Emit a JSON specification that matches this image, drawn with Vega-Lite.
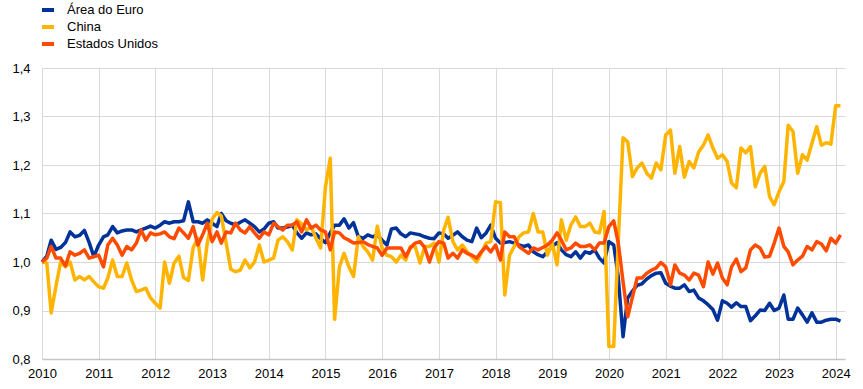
{
  "$schema": "https://vega.github.io/schema/vega-lite/v6.json",
  "width": 803,
  "height": 291,
  "autosize": {"type": "none"},
  "padding": {"left": 42, "top": 68, "right": 18, "bottom": 30},
  "background": "white",
  "config": {
    "view": {"stroke": null},
    "axis": {"labelFont": "Liberation Sans", "labelFontSize": 13, "labelColor": "#000000", "gridColor": "#d9d9d9", "gridWidth": 1},
    "legend": {"labelFont": "Liberation Sans", "labelFontSize": 13, "labelColor": "#000000"}
  },
  "data": {"values": [
    {"d":"2010-01-01","e":1.000,"c":1.000,"u":1.000},{"d":"2010-02-01","e":1.012,"c":0.998,"u":1.008},{"d":"2010-03-01","e":1.045,"c":0.895,"u":1.032},{"d":"2010-04-01","e":1.026,"c":0.950,"u":1.008},{"d":"2010-05-01","e":1.030,"c":1.000,"u":1.008},{"d":"2010-06-01","e":1.040,"c":0.990,"u":0.992},{"d":"2010-07-01","e":1.062,"c":1.000,"u":1.021},{"d":"2010-08-01","e":1.052,"c":0.963,"u":1.014},{"d":"2010-09-01","e":1.055,"c":0.970,"u":1.018},{"d":"2010-10-01","e":1.065,"c":0.963,"u":1.025},{"d":"2010-11-01","e":1.040,"c":0.970,"u":1.008},{"d":"2010-12-01","e":1.011,"c":0.959,"u":1.011},
    {"d":"2011-01-01","e":1.035,"c":0.949,"u":1.014},{"d":"2011-02-01","e":1.052,"c":0.946,"u":0.990},{"d":"2011-03-01","e":1.056,"c":0.967,"u":1.035},{"d":"2011-04-01","e":1.073,"c":1.004,"u":1.049},{"d":"2011-05-01","e":1.060,"c":0.970,"u":1.035},{"d":"2011-06-01","e":1.064,"c":0.970,"u":1.014},{"d":"2011-07-01","e":1.066,"c":0.998,"u":1.032},{"d":"2011-08-01","e":1.066,"c":0.963,"u":1.025},{"d":"2011-09-01","e":1.062,"c":0.939,"u":1.039},{"d":"2011-10-01","e":1.066,"c":0.942,"u":1.066},{"d":"2011-11-01","e":1.070,"c":0.946,"u":1.045},{"d":"2011-12-01","e":1.074,"c":0.926,"u":1.060},
    {"d":"2012-01-01","e":1.070,"c":0.915,"u":1.056},{"d":"2012-02-01","e":1.076,"c":0.905,"u":1.058},{"d":"2012-03-01","e":1.083,"c":1.000,"u":1.062},{"d":"2012-04-01","e":1.080,"c":0.956,"u":1.052},{"d":"2012-05-01","e":1.083,"c":0.998,"u":1.048},{"d":"2012-06-01","e":1.083,"c":1.012,"u":1.070},{"d":"2012-07-01","e":1.085,"c":0.968,"u":1.060},{"d":"2012-08-01","e":1.124,"c":0.962,"u":1.049},{"d":"2012-09-01","e":1.083,"c":1.030,"u":1.073},{"d":"2012-10-01","e":1.083,"c":1.049,"u":1.035},{"d":"2012-11-01","e":1.080,"c":0.963,"u":1.056},{"d":"2012-12-01","e":1.087,"c":1.040,"u":1.080},
    {"d":"2013-01-01","e":1.080,"c":1.088,"u":1.042},{"d":"2013-02-01","e":1.073,"c":1.102,"u":1.062},{"d":"2013-03-01","e":1.100,"c":1.095,"u":1.039},{"d":"2013-04-01","e":1.085,"c":1.040,"u":1.062},{"d":"2013-05-01","e":1.080,"c":0.985,"u":1.060},{"d":"2013-06-01","e":1.076,"c":0.980,"u":1.080},{"d":"2013-07-01","e":1.082,"c":0.983,"u":1.066},{"d":"2013-08-01","e":1.087,"c":1.004,"u":1.060},{"d":"2013-09-01","e":1.080,"c":0.988,"u":1.073},{"d":"2013-10-01","e":1.073,"c":1.000,"u":1.060},{"d":"2013-11-01","e":1.062,"c":1.035,"u":1.049},{"d":"2013-12-01","e":1.068,"c":1.000,"u":1.062},
    {"d":"2014-01-01","e":1.080,"c":1.004,"u":1.056},{"d":"2014-02-01","e":1.083,"c":1.008,"u":1.080},{"d":"2014-03-01","e":1.070,"c":1.045,"u":1.073},{"d":"2014-04-01","e":1.070,"c":1.052,"u":1.066},{"d":"2014-05-01","e":1.072,"c":1.042,"u":1.076},{"d":"2014-06-01","e":1.076,"c":1.025,"u":1.076},{"d":"2014-07-01","e":1.060,"c":1.087,"u":1.083},{"d":"2014-08-01","e":1.049,"c":1.078,"u":1.062},{"d":"2014-09-01","e":1.060,"c":1.066,"u":1.087},{"d":"2014-10-01","e":1.056,"c":1.073,"u":1.070},{"d":"2014-11-01","e":1.058,"c":1.049,"u":1.076},{"d":"2014-12-01","e":1.048,"c":1.029,"u":1.066},
    {"d":"2015-01-01","e":1.040,"c":1.155,"u":1.062},{"d":"2015-02-01","e":1.060,"c":1.214,"u":1.025},{"d":"2015-03-01","e":1.076,"c":0.882,"u":1.062},{"d":"2015-04-01","e":1.076,"c":0.990,"u":1.060},{"d":"2015-05-01","e":1.089,"c":1.018,"u":1.050},{"d":"2015-06-01","e":1.070,"c":0.990,"u":1.045},{"d":"2015-07-01","e":1.081,"c":0.970,"u":1.039},{"d":"2015-08-01","e":1.052,"c":1.052,"u":1.040},{"d":"2015-09-01","e":1.049,"c":1.032,"u":1.042},{"d":"2015-10-01","e":1.056,"c":1.021,"u":1.036},{"d":"2015-11-01","e":1.052,"c":1.004,"u":1.032},{"d":"2015-12-01","e":1.056,"c":1.074,"u":1.029},
    {"d":"2016-01-01","e":1.045,"c":1.029,"u":1.014},{"d":"2016-02-01","e":1.035,"c":1.014,"u":1.029},{"d":"2016-03-01","e":1.068,"c":1.011,"u":1.029},{"d":"2016-04-01","e":1.070,"c":1.000,"u":1.029},{"d":"2016-05-01","e":1.058,"c":1.014,"u":1.029},{"d":"2016-06-01","e":1.052,"c":1.004,"u":1.011},{"d":"2016-07-01","e":1.060,"c":1.032,"u":1.029},{"d":"2016-08-01","e":1.058,"c":1.032,"u":1.039},{"d":"2016-09-01","e":1.056,"c":0.998,"u":1.042},{"d":"2016-10-01","e":1.052,"c":1.032,"u":1.030},{"d":"2016-11-01","e":1.049,"c":1.032,"u":1.000},{"d":"2016-12-01","e":1.048,"c":1.039,"u":1.029},
    {"d":"2017-01-01","e":1.060,"c":1.000,"u":1.042},{"d":"2017-02-01","e":1.058,"c":1.066,"u":1.039},{"d":"2017-03-01","e":1.049,"c":1.092,"u":1.008},{"d":"2017-04-01","e":1.055,"c":1.042,"u":1.018},{"d":"2017-05-01","e":1.062,"c":1.025,"u":1.008},{"d":"2017-06-01","e":1.052,"c":1.035,"u":1.025},{"d":"2017-07-01","e":1.045,"c":1.021,"u":1.018},{"d":"2017-08-01","e":1.042,"c":1.011,"u":1.014},{"d":"2017-09-01","e":1.070,"c":1.000,"u":1.008},{"d":"2017-10-01","e":1.050,"c":1.018,"u":1.021},{"d":"2017-11-01","e":1.060,"c":1.039,"u":1.032},{"d":"2017-12-01","e":1.076,"c":1.042,"u":1.021},
    {"d":"2018-01-01","e":1.049,"c":1.124,"u":1.035},{"d":"2018-02-01","e":1.039,"c":1.122,"u":1.004},{"d":"2018-03-01","e":1.040,"c":0.932,"u":1.062},{"d":"2018-04-01","e":1.042,"c":1.014,"u":1.052},{"d":"2018-05-01","e":1.039,"c":1.032,"u":1.052},{"d":"2018-06-01","e":1.035,"c":1.052,"u":1.032},{"d":"2018-07-01","e":1.032,"c":1.060,"u":1.025},{"d":"2018-08-01","e":1.035,"c":1.062,"u":1.018},{"d":"2018-09-01","e":1.021,"c":1.100,"u":1.029},{"d":"2018-10-01","e":1.015,"c":1.062,"u":1.025},{"d":"2018-11-01","e":1.011,"c":1.062,"u":1.030},{"d":"2018-12-01","e":1.021,"c":1.014,"u":1.035},
    {"d":"2019-01-01","e":1.032,"c":1.039,"u":1.045},{"d":"2019-02-01","e":1.040,"c":0.994,"u":1.060},{"d":"2019-03-01","e":1.025,"c":1.087,"u":1.045},{"d":"2019-04-01","e":1.015,"c":1.045,"u":1.025},{"d":"2019-05-01","e":1.011,"c":1.076,"u":1.029},{"d":"2019-06-01","e":1.021,"c":1.093,"u":1.039},{"d":"2019-07-01","e":1.008,"c":1.073,"u":1.032},{"d":"2019-08-01","e":1.021,"c":1.073,"u":1.032},{"d":"2019-09-01","e":1.018,"c":1.080,"u":1.035},{"d":"2019-10-01","e":1.025,"c":1.062,"u":1.025},{"d":"2019-11-01","e":1.008,"c":1.060,"u":1.039},{"d":"2019-12-01","e":0.998,"c":1.104,"u":1.039},
    {"d":"2020-01-01","e":1.042,"c":0.826,"u":1.073},{"d":"2020-02-01","e":1.035,"c":0.826,"u":1.085},{"d":"2020-03-01","e":0.970,"c":1.040,"u":1.040},{"d":"2020-04-01","e":0.846,"c":1.256,"u":0.960},{"d":"2020-05-01","e":0.926,"c":1.248,"u":0.887},{"d":"2020-06-01","e":0.940,"c":1.176,"u":0.928},{"d":"2020-07-01","e":0.952,"c":1.194,"u":0.967},{"d":"2020-08-01","e":0.955,"c":1.204,"u":0.967},{"d":"2020-09-01","e":0.965,"c":1.183,"u":0.977},{"d":"2020-10-01","e":0.972,"c":1.173,"u":0.983},{"d":"2020-11-01","e":0.977,"c":1.204,"u":0.988},{"d":"2020-12-01","e":0.978,"c":1.190,"u":0.999},
    {"d":"2021-01-01","e":0.956,"c":1.262,"u":0.990},{"d":"2021-02-01","e":0.950,"c":1.272,"u":0.953},{"d":"2021-03-01","e":0.946,"c":1.183,"u":0.994},{"d":"2021-04-01","e":0.946,"c":1.238,"u":0.977},{"d":"2021-05-01","e":0.953,"c":1.175,"u":0.973},{"d":"2021-06-01","e":0.939,"c":1.207,"u":0.963},{"d":"2021-07-01","e":0.942,"c":1.194,"u":0.977},{"d":"2021-08-01","e":0.926,"c":1.227,"u":0.973},{"d":"2021-09-01","e":0.920,"c":1.241,"u":0.949},{"d":"2021-10-01","e":0.912,"c":1.262,"u":1.000},{"d":"2021-11-01","e":0.902,"c":1.235,"u":0.975},{"d":"2021-12-01","e":0.880,"c":1.214,"u":0.998},
    {"d":"2022-01-01","e":0.920,"c":1.221,"u":0.967},{"d":"2022-02-01","e":0.915,"c":1.207,"u":0.953},{"d":"2022-03-01","e":0.907,"c":1.163,"u":0.990},{"d":"2022-04-01","e":0.916,"c":1.153,"u":1.006},{"d":"2022-05-01","e":0.908,"c":1.235,"u":0.980},{"d":"2022-06-01","e":0.908,"c":1.225,"u":0.988},{"d":"2022-07-01","e":0.879,"c":1.238,"u":1.025},{"d":"2022-08-01","e":0.889,"c":1.155,"u":1.035},{"d":"2022-09-01","e":0.901,"c":1.183,"u":1.029},{"d":"2022-10-01","e":0.900,"c":1.197,"u":1.010},{"d":"2022-11-01","e":0.915,"c":1.135,"u":1.012},{"d":"2022-12-01","e":0.900,"c":1.118,"u":1.039},
    {"d":"2023-01-01","e":0.905,"c":1.145,"u":1.070},{"d":"2023-02-01","e":0.932,"c":1.166,"u":1.032},{"d":"2023-03-01","e":0.882,"c":1.282,"u":1.021},{"d":"2023-04-01","e":0.882,"c":1.269,"u":0.994},{"d":"2023-05-01","e":0.905,"c":1.183,"u":1.004},{"d":"2023-06-01","e":0.891,"c":1.221,"u":1.012},{"d":"2023-07-01","e":0.876,"c":1.210,"u":1.032},{"d":"2023-08-01","e":0.895,"c":1.245,"u":1.025},{"d":"2023-09-01","e":0.876,"c":1.279,"u":1.042},{"d":"2023-10-01","e":0.876,"c":1.241,"u":1.037},{"d":"2023-11-01","e":0.880,"c":1.246,"u":1.023},{"d":"2023-12-01","e":0.882,"c":1.243,"u":1.049},
    {"d":"2024-01-01","e":0.882,"c":1.322,"u":1.039},{"d":"2024-02-01","e":0.878,"c":1.322,"u":1.056}
  ]},
  "encoding": {
    "x": {
      "field": "d",
      "type": "temporal",
      "scale": {"type": "utc", "domain": [{"year": 2010, "month": 1, "date": 1, "utc": true}, {"year": 2024, "month": 3, "date": 1, "utc": true}]},
      "axis": {
        "title": null,
        "values": [
          {"year": 2010, "month": 1, "date": 1, "utc": true}, {"year": 2011, "month": 1, "date": 1, "utc": true}, {"year": 2012, "month": 1, "date": 1, "utc": true},
          {"year": 2013, "month": 1, "date": 1, "utc": true}, {"year": 2014, "month": 1, "date": 1, "utc": true}, {"year": 2015, "month": 1, "date": 1, "utc": true},
          {"year": 2016, "month": 1, "date": 1, "utc": true}, {"year": 2017, "month": 1, "date": 1, "utc": true}, {"year": 2018, "month": 1, "date": 1, "utc": true},
          {"year": 2019, "month": 1, "date": 1, "utc": true}, {"year": 2020, "month": 1, "date": 1, "utc": true}, {"year": 2021, "month": 1, "date": 1, "utc": true},
          {"year": 2022, "month": 1, "date": 1, "utc": true}, {"year": 2023, "month": 1, "date": 1, "utc": true}, {"year": 2024, "month": 1, "date": 1, "utc": true}
        ],
        "format": "%Y",
        "grid": true,
        "ticks": false,
        "labelPadding": 8,
        "labelAngle": 0,
        "labelFlush": false,
        "labelOverlap": false,
        "domain": true,
        "domainColor": "#c6c6c6",
        "domainWidth": 1.5
      }
    }
  },
  "layer": [
    {
      "mark": {"type": "line", "strokeWidth": 3.5, "strokeJoin": "round"},
      "encoding": {
        "y": {
          "field": "e",
          "type": "quantitative",
          "scale": {"domain": [0.8, 1.4], "nice": false, "zero": false},
          "axis": {
            "title": null,
            "values": [0.8, 0.9, 1.0, 1.1, 1.2, 1.3, 1.4],
            "labelExpr": "replace(format(datum.value, '.1f'), '.', ',')",
            "grid": true,
            "ticks": false,
            "domain": false,
            "labelPadding": 12
          }
        },
        "color": {
          "datum": "Área do Euro",
          "type": "nominal",
          "scale": {"domain": ["Área do Euro", "China", "Estados Unidos"], "range": ["#003299", "#ffb400", "#ff4b00"]},
          "legend": {
            "title": null,
            "orient": "none",
            "legendX": -2,
            "legendY": -66,
            "direction": "vertical",
            "symbolType": "stroke",
            "symbolSize": 144,
            "symbolStrokeWidth": 4,
            "labelOffset": 11,
            "rowPadding": 1,
            "padding": 0
          }
        }
      }
    },
    {
      "mark": {"type": "line", "strokeWidth": 3.5, "strokeJoin": "round"},
      "encoding": {
        "y": {"field": "c", "type": "quantitative"},
        "color": {"datum": "China", "type": "nominal"}
      }
    },
    {
      "mark": {"type": "line", "strokeWidth": 3.5, "strokeJoin": "round"},
      "encoding": {
        "y": {"field": "u", "type": "quantitative"},
        "color": {"datum": "Estados Unidos", "type": "nominal"}
      }
    }
  ]
}
